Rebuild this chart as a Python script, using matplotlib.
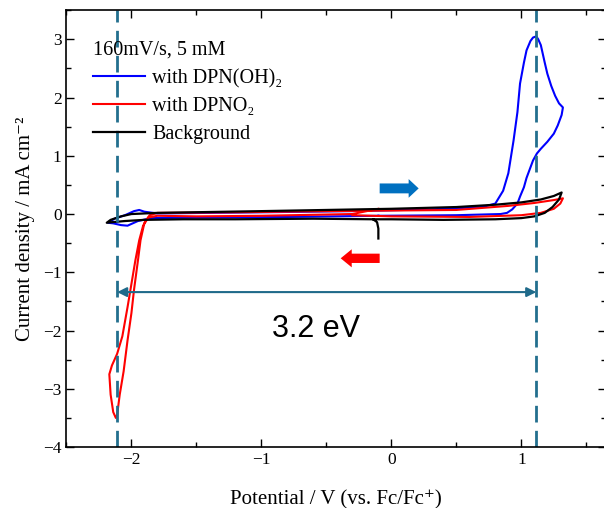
import matplotlib
matplotlib.use('Agg')
from matplotlib import pyplot as plt
from matplotlib.ticker import MultipleLocator

plt.rcParams['font.family'] = ['Liberation Serif', 'DejaVu Serif']

# background scan (potential V, current density mA cm^-2)
bg_e = [-0.10, -0.10, -0.11, -0.14, -0.6, -1.2, -1.6, -1.9, -2.05, -2.15, -2.19,
        -2.16, -2.08, -2.0, -1.8, -1.0, -0.5, 0.0, 0.5, 0.8, 1.0, 1.15, 1.25, 1.31,
        1.29, 1.24, 1.18, 1.1, 1.0, 0.8, 0.4, 0.0, -0.14]
bg_j = [-0.42, -0.25, -0.14, -0.09, -0.08, -0.09, -0.09, -0.10, -0.12, -0.14, -0.15,
        -0.10, -0.04, 0.0, 0.02, 0.05, 0.07, 0.09, 0.12, 0.16, 0.20, 0.25, 0.31, 0.37,
        0.25, 0.12, 0.02, -0.04, -0.07, -0.09, -0.10, -0.09, -0.09]

# with DPNO2
no2_e = [-0.10, -0.3, -1.0, -1.5, -1.8, -1.87, -1.91, -1.94, -1.97, -2.0, -2.03, -2.07,
         -2.11, -2.15, -2.17, -2.16, -2.14, -2.12, -2.11, -2.09, -2.06, -2.03, -2.0,
         -1.98, -1.95, -1.93, -1.90, -1.86, -1.8, -1.2, -0.5, 0.0, 0.5, 0.9, 1.1, 1.25,
         1.32, 1.30, 1.25, 1.15, 1.0, 0.6, 0.0, -0.3]
no2_j = [0.09, 0.0, -0.03, -0.04, -0.03, -0.06, -0.2, -0.45, -0.8, -1.2, -1.6, -2.1,
         -2.4, -2.6, -2.75, -3.1, -3.4, -3.5, -3.45, -3.1, -2.7, -2.17, -1.7,
         -1.3, -0.8, -0.45, -0.15, -0.02, 0.02, 0.03, 0.05, 0.06, 0.07, 0.14, 0.19, 0.24,
         0.27, 0.18, 0.09, 0.02, -0.02, -0.05, -0.04, -0.02]

# with DPN(OH)2
oh_e = [-0.1, -0.8, -1.5, -1.85, -1.95, -2.03, -2.08, -2.14, -2.18, -2.13, -2.05, -1.98,
        -1.94, -1.9, -1.8, -1.0, -0.3, 0.3, 0.7, 0.8, 0.86, 0.9, 0.94, 0.97, 0.99, 1.02,
        1.04, 1.07, 1.09, 1.115, 1.13, 1.15, 1.18, 1.2, 1.23, 1.26, 1.29, 1.32, 1.31,
        1.28, 1.25, 1.2, 1.15, 1.12, 1.09, 1.07, 1.04, 1.02, 0.99, 0.97, 0.93, 0.89,
        0.84, 0.5, -0.1]
oh_j = [-0.03, -0.05, -0.06, -0.07, -0.12, -0.2, -0.19, -0.16, -0.15, -0.08, -0.02, 0.05,
        0.07, 0.04, 0.01, 0.03, 0.05, 0.08, 0.12, 0.18, 0.4, 0.7, 1.26, 1.75, 2.24, 2.6,
        2.81, 2.97, 3.03, 3.05, 3.0, 2.9, 2.6, 2.41, 2.2, 2.03, 1.9, 1.83, 1.7,
        1.52, 1.38, 1.24, 1.12, 1.04, 0.92, 0.80, 0.62, 0.46, 0.3, 0.18, 0.08, 0.02,
        0.0, -0.02, -0.03]

onsets = [-2.11, 1.115]
gap_label = '3.2 eV'

fig = plt.figure(figsize=(6.04, 5.08), dpi=100)
ax = fig.add_axes([0.110, 0.120, 0.893, 0.860])

ax.plot(oh_e, oh_j, color='#0000ff', lw=1.5, label='with DPN(OH)₂')
ax.plot(no2_e, no2_j, color='#ff0000', lw=1.5, label='with DPNO₂')
ax.plot(bg_e, bg_j, color='black', lw=1.6, label='Background')

teal = '#236f8e'
for x in onsets:
    ax.axvline(x, color=teal, lw=2.0, linestyle=(0, (6, 3)))

ax.annotate('', xy=(onsets[0], -1.34), xytext=(onsets[1], -1.34),
            arrowprops=dict(arrowstyle='<|-|>', color='#1f6a8a', lw=1.5,
                            mutation_scale=14, shrinkA=0, shrinkB=0))
ax.text(-0.577, -1.98, gap_label, family='Liberation Sans', fontsize=22,
        ha='center', va='center')

# scan direction arrows
ax.arrow(-0.09, 0.44, 0.30, 0, width=0.17, head_width=0.32, head_length=0.077,
         length_includes_head=True, color='#0070c0', lw=0)
ax.arrow(-0.09, -0.76, -0.30, 0, width=0.16, head_width=0.31, head_length=0.085,
         length_includes_head=True, color='#ff0000', lw=0)

ax.set_xlim(-2.5, 1.65)
ax.set_ylim(-4, 3.5)
ax.xaxis.set_major_locator(MultipleLocator(1))
ax.xaxis.set_minor_locator(MultipleLocator(0.5))
ax.yaxis.set_major_locator(MultipleLocator(1))
ax.yaxis.set_minor_locator(MultipleLocator(0.5))
ax.tick_params(which='both', direction='in', top=True, right=True, labelsize=12.5)
ax.tick_params(which='major', length=6, width=1)
ax.tick_params(which='minor', length=3.5, width=1)
for s in ax.spines.values():
    s.set_linewidth(1.2)

ax.set_xlabel('Potential / V (vs. Fc/Fc⁺)', fontsize=15, labelpad=16)
ax.set_ylabel('Current density / mA cm⁻²', fontsize=15, labelpad=6)

leg = ax.legend(title='160mV/s, 5 mM', loc='upper left', frameon=False,
                bbox_to_anchor=(0.049, 0.93), borderaxespad=0, borderpad=0,
                fontsize=14.5, title_fontsize=14.5, handlelength=2.6,
                handletextpad=0.35, labelspacing=0.45)
leg._legend_box.align = 'left'

fig.savefig('out.png', dpi=100)
